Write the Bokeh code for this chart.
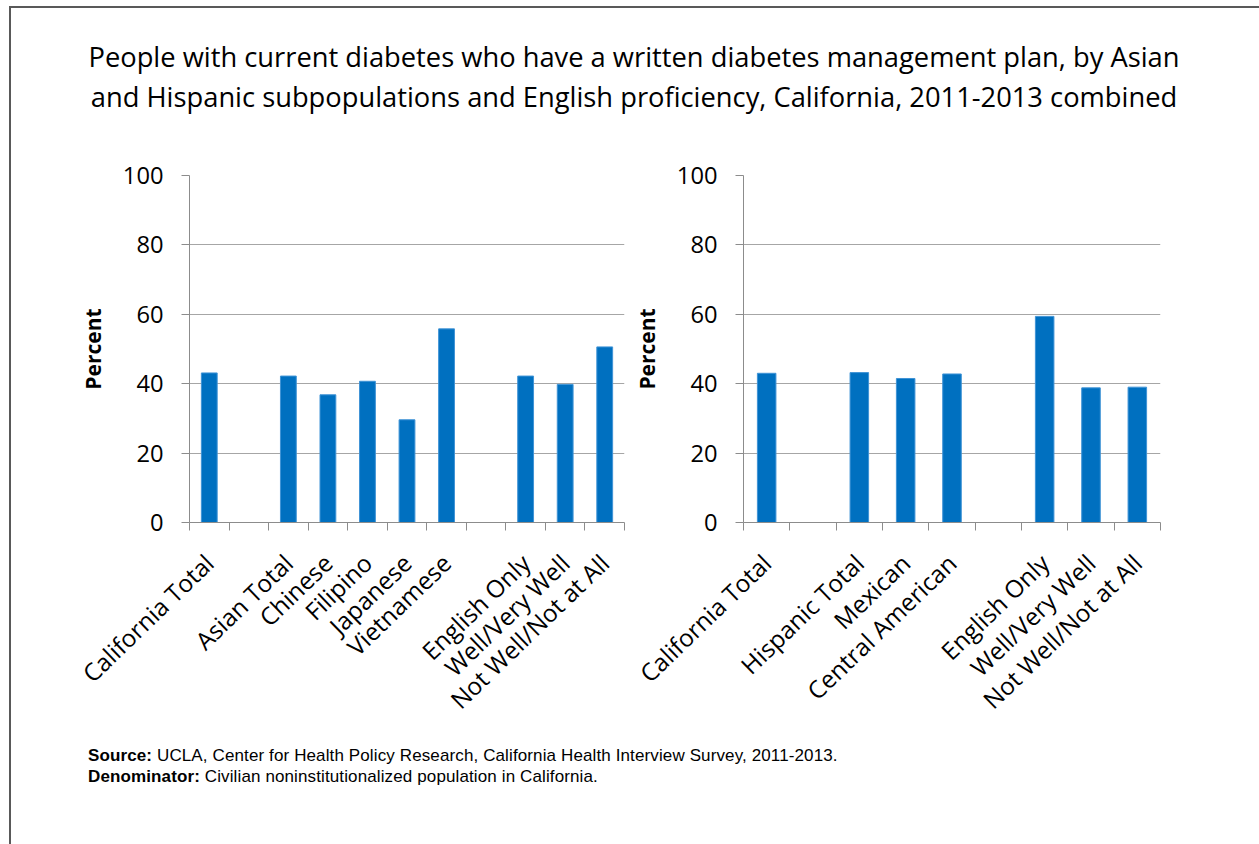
import math

from bokeh.embed import file_html
from bokeh.layouts import column, row
from bokeh.models import (ColumnDataSource, Div, FixedTicker, Range1d)
from bokeh.plotting import figure
from bokeh.resources import INLINE

# Percent of adults with current diabetes who have a written management plan
# (empty strings are spacer slots between groups)
asian_categories = ["California Total", "", "Asian Total", "Chinese", "Filipino",
                    "Japanese", "Vietnamese", "", "English Only", "Well/Very Well",
                    "Not Well/Not at All"]
asian_values = [43.1, None, 42.2, 36.8, 40.7, 29.6, 55.8, None, 42.2, 39.8, 50.6]

hispanic_categories = ["California Total", "", "Hispanic Total", "Mexican",
                       "Central American", "", "English Only", "Well/Very Well",
                       "Not Well/Not at All"]
hispanic_values = [43.0, None, 43.2, 41.5, 42.8, None, 59.4, 38.8, 39.0]

y_ticks = [0, 20, 40, 60, 80, 100]

title_lines = [
    "People with current diabetes who have a written diabetes management plan, by Asian",
    "and Hispanic subpopulations and English proficiency, California, 2011-2013 combined",
]

BAR = "#0070C0"
GRID = "#a6a6a6"
AXIS = "#8c8c8c"
FONT = "Open Sans"


def make_panel(categories, values, frame_width, left, right):
    n = len(categories)
    p = figure(
        x_range=Range1d(0, n), y_range=Range1d(0, 100),
        frame_width=frame_width, frame_height=347,
        min_border_left=left, min_border_right=right,
        min_border_top=35, min_border_bottom=198,
        output_backend="svg", toolbar_location=None,
    )
    p.outline_line_color = None
    p.background_fill_color = "white"
    p.border_fill_color = "white"

    # each category occupies one unit slot; bars sit in the slot centre
    centers = [i + 0.5 for i in range(n)]
    xs = [c for c, v in zip(centers, values) if v is not None]
    tops = [v for v in values if v is not None]
    src = ColumnDataSource(dict(x=xs, top=tops))
    p.vbar(x="x", top="top", width=0.4, source=src,
           fill_color=BAR, line_color="#3f93d6", line_width=1)

    # y axis and horizontal grid
    p.yaxis.ticker = FixedTicker(ticks=y_ticks)
    p.yaxis.axis_line_color = AXIS
    p.yaxis.major_tick_line_color = AXIS
    p.yaxis.major_tick_out = 8
    p.yaxis.major_tick_in = 0
    p.yaxis.minor_tick_line_color = None
    p.yaxis.major_label_standoff = 18
    p.yaxis.major_label_text_font = FONT
    p.yaxis.major_label_text_font_size = "23.7px"
    p.yaxis.major_label_text_color = "black"
    p.yaxis.axis_label = "Percent"
    p.yaxis.axis_label_text_font = FONT
    p.yaxis.axis_label_text_font_style = "bold"
    p.yaxis.axis_label_text_font_size = "21px"
    p.yaxis.axis_label_text_color = "black"
    p.yaxis.axis_label_standoff = 13
    p.ygrid.grid_line_color = GRID
    p.ygrid.grid_line_width = 1
    p.xgrid.visible = False

    # category names at slot centres, tick marks on slot boundaries
    label_ticks = [c for c, name in zip(centers, categories) if name]
    overrides = {c: name for c, name in zip(centers, categories) if name}
    xa = p.xaxis[0]
    xa.ticker = FixedTicker(ticks=label_ticks, minor_ticks=list(range(n + 1)))
    xa.major_label_overrides = overrides
    xa.axis_line_color = AXIS
    xa.major_tick_line_color = None
    xa.major_tick_out = 0
    xa.major_tick_in = 0
    xa.minor_tick_line_color = AXIS
    xa.minor_tick_out = 8
    xa.minor_tick_in = 0
    xa.major_label_orientation = math.radians(44)
    xa.major_label_standoff = 28
    xa.major_label_text_font = FONT
    xa.major_label_text_font_size = "24.3px"
    xa.major_label_text_color = "black"
    return p


left_panel = make_panel(asian_categories, asian_values, 435, 178, 5)
right_panel = make_panel(hispanic_categories, hispanic_values, 417, 110, 101)

title = Div(
    text=("<div style=\"font-family:'Open Sans';font-size:27.3px;line-height:40px;"
          "text-align:center;padding-top:29px;color:#000;width:1246px;\">"
          + title_lines[0] + "<br>" + title_lines[1] + "</div>"),
    width=1246, height=132, margin=0,
)

footer = Div(
    text=("<div style=\"font-family:'Liberation Sans';font-size:17px;line-height:21px;"
          "letter-spacing:0.12px;padding-top:15px;padding-left:77px;color:#000;\">"
          "<b>Source:</b> UCLA, Center for Health Policy Research, California Health "
          "Interview Survey, 2011-2013.<br>"
          "<b>Denominator:</b> Civilian noninstitutionalized population in California."
          "</div>"),
    width=1246, height=124, margin=0,
)

layout = column(
    title, row(left_panel, right_panel, spacing=0), footer,
    spacing=0, margin=(6, 0, 0, 9),
    styles={"border-left": "2px solid #595959", "border-top": "2px solid #595959",
            "border-right": "1px solid #e3e3e3", "background": "white"},
)

with open("out.html", "w") as f:
    f.write(file_html(layout, INLINE))
